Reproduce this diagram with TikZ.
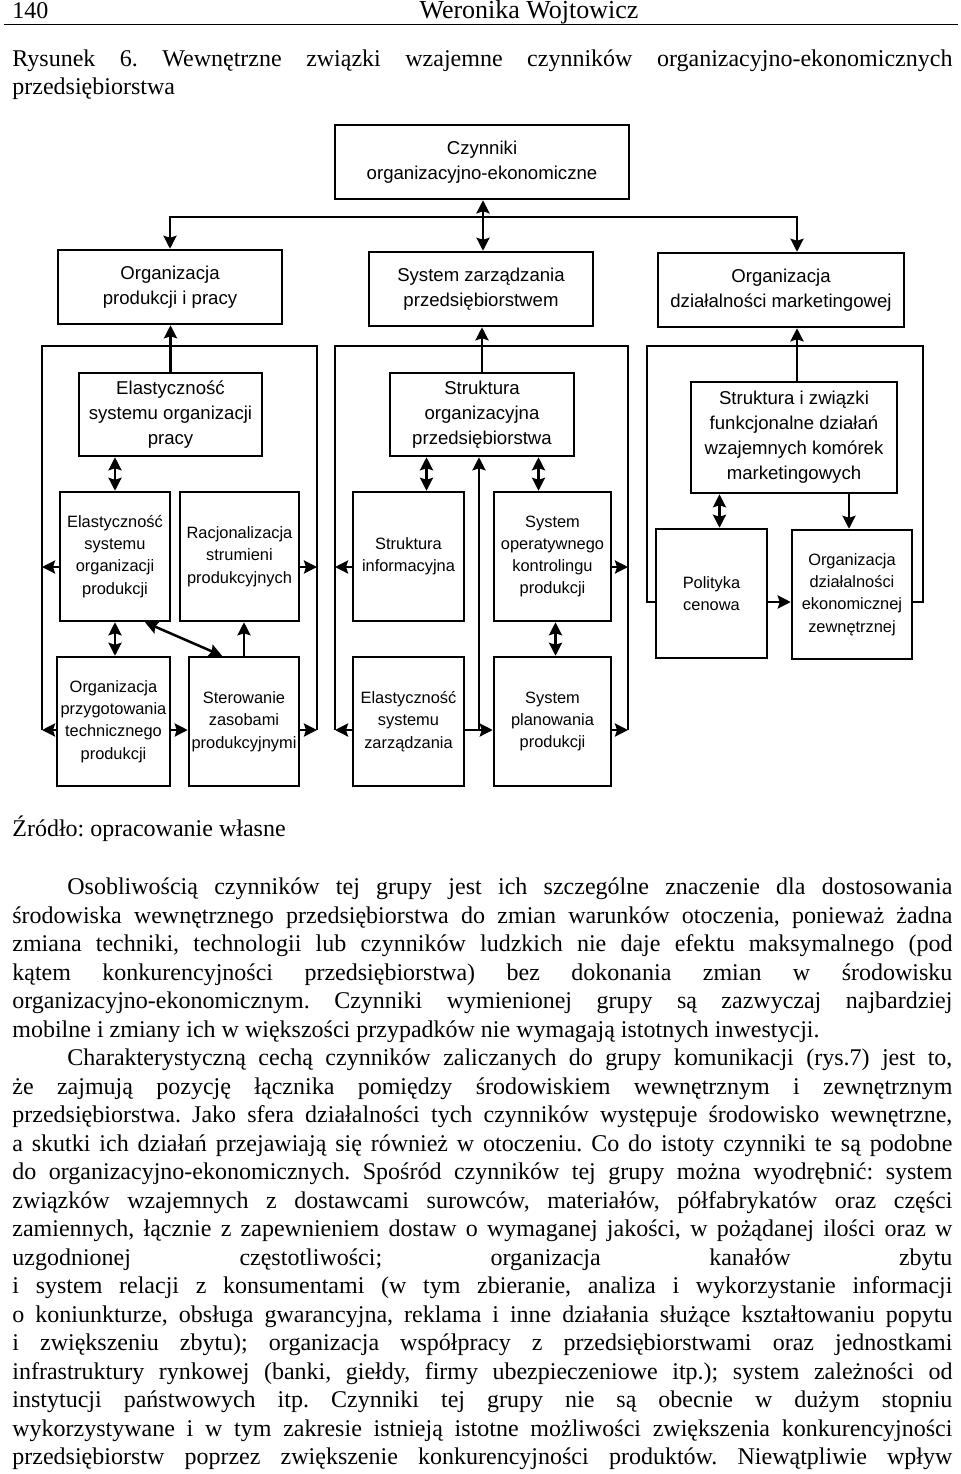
\documentclass[tikz,border=0pt]{standalone}
\usepackage{fontspec}
\setmainfont{Liberation Serif}
\newfontfamily\dsans{Liberation Sans}
\usetikzlibrary{arrows.meta,calc}
\frenchspacing
\tikzset{
  bx/.style={draw, line width=1.25pt, align=center, inner sep=0pt},
  big/.style={bx, font=\dsans\fontsize{9.3}{12.5}\selectfont},
  sml/.style={bx, font=\dsans\fontsize{8.2}{11.15}\selectfont, minimum height=64.5pt},
  conn/.style={line width=1.25pt},
  arr/.style={conn, -{Stealth[length=6.5pt,width=6.5pt,inset=1pt]}},
  darr/.style={conn, {Stealth[length=6.5pt,width=6.5pt,inset=1pt]}-{Stealth[length=6.5pt,width=6.5pt,inset=1pt]}},
  txt/.style={anchor=base west, inner sep=0pt, font=\fontsize{12}{14.25}\selectfont},
}
\begin{document}
\begin{tikzpicture}[x=0.5pt,y=-0.5pt]
\useasboundingbox[fill=white] (0,0) rectangle (960,1474);

% header
\node[txt] (pg) at (12,18.5) {140};
\node[txt, anchor=base, font=\fontsize{13}{15}\selectfont] (au) at (529,18.5) {Weronika Wojtowicz};
\draw[line width=0.75pt] (4,24.5) -- (958,24.5);
\node[txt] (cap1) at (12,66) {\makebox[470pt][s]{Rysunek 6. Wewnętrzne związki wzajemne czynników organizacyjno-ekonomicznych}};
\node[txt] (cap2) at (12,94.5) {przedsiębiorstwa};

% top level boxes
\node[big, minimum width=147pt, minimum height=37pt] (top) at (482,162) {Czynniki\\organizacyjno-ekonomiczne};
\node[big, minimum width=112pt, minimum height=37pt] (A) at (170,287) {Organizacja\\produkcji i pracy};
\node[big, minimum width=112pt, minimum height=37pt] (B) at (481,289) {System zarządzania\\przedsiębiorstwem};
\node[big, minimum width=123pt, minimum height=37pt] (C) at (781,290) {Organizacja\\działalności marketingowej};

% group 1
\node[big, minimum width=91.5pt, minimum height=41.5pt] (a1) at (170.5,414.5) {Elastyczność\\systemu organizacji\\pracy};
\node[sml, minimum width=55pt] (a2) at (115,556.5) {Elastyczność\\systemu\\organizacji\\produkcji};
\node[sml, minimum width=59.5pt] (a3) at (239.5,556.5) {Racjonalizacja\\strumieni\\produkcyjnych};
\node[sml, minimum width=56.5pt] (a4) at (113.5,721.5) {Organizacja\\przygotowania\\technicznego\\produkcji};
\node[sml, minimum width=55pt] (a5) at (244,721.5) {Sterowanie\\zasobami\\produkcyjnymi};

% group 2
\node[big, minimum width=92pt, minimum height=41.5pt] (b1) at (482,414.5) {Struktura\\organizacyjna\\przedsiębiorstwa};
\node[sml, minimum width=55.5pt] (b2) at (408.5,556.5) {Struktura\\informacyjna};
\node[sml, minimum width=58.5pt] (b3) at (552.5,556.5) {System\\operatywnego\\kontrolingu\\produkcji};
\node[sml, minimum width=55.5pt] (b4) at (408.5,721.5) {Elastyczność\\systemu\\zarządzania};
\node[sml, minimum width=58.5pt] (b5) at (552.5,721.5) {System\\planowania\\produkcji};

% group 3
\node[big, minimum width=103pt, minimum height=55.5pt] (c1) at (794,437.5) {Struktura i związki\\funkcjonalne działań\\wzajemnych komórek\\marketingowych};
\node[sml, minimum width=55.5pt] (c2) at (711.5,593.5) {Polityka\\cenowa};
\node[sml, minimum width=60pt] (c3) at (852,594.5) {Organizacja\\działalności\\ekonomicznej\\zewnętrznej};

% helper coordinates
\coordinate (r1) at (0,567);
\coordinate (r2) at (0,730);
\coordinate (r3) at (0,602);
\coordinate (g1L) at (42,346); \coordinate (g1R) at (317,346);
\coordinate (g2L) at (335,346); \coordinate (g2R) at (628,346);
\coordinate (g3L) at (647,346); \coordinate (g3R) at (923,346);
\coordinate (j0) at (483,217);
\coordinate (xC) at (797,0);
\coordinate (vb) at (479,730);

% top connectors
\draw[darr] (top.south -| j0) -- (B.north -| j0);
\draw[arr] (j0) -| (A.north);
\draw[arr] (j0) -| (C.north -| xC);

% group frames
\draw[conn] (g1L |- r2) -- (g1L) -- (g1R) -- (g1R |- r2);
\draw[conn] (g2L |- r2) -- (g2L) -- (g2R) -- (g2R |- r2);
\draw[conn] (c2.west |- r3) -- (g3L |- r3) -- (g3L) -- (g3R) -- (g3R |- r3) -- (c3.east |- r3);

% group to level-1 boxes
\draw[arr] (a1.north) -- (a1.north |- A.south);
\draw[arr] (b1.north) -- (b1.north |- B.south);
\draw[arr] (c1.north -| xC) -- (C.south -| xC);

% group 1 inner
\draw[darr] (a2.north) -- (a2.north |- a1.south);
\draw[darr] (a2.south) -- (a2.south |- a4.north);
\draw[darr] ([xshift=15pt]a2.south) -- ([xshift=-11pt]a5.north);
\draw[arr] (a5.north) -- (a5.north |- a3.south);
\draw[arr] (a4.east |- r2) -- (a5.west |- r2);
\draw[arr] (a2.west |- r1) -- (g1L |- r1);
\draw[arr] (a4.west |- r2) -- (g1L |- r2);
\draw[arr] (a3.east |- r1) -- (g1R |- r1);
\draw[arr] (a5.east |- r2) -- (g1R |- r2);

% group 2 inner
\draw[darr] ([xshift=9pt]b2.north) -- ([xshift=9pt]b2.north |- b1.south);
\draw[darr] ([xshift=-7pt]b3.north) -- ([xshift=-7pt]b3.north |- b1.south);
\draw[arr] (b4.east |- r2) -- (b5.west |- r2);
\draw[arr] (vb) -- (vb |- b1.south);
\draw[darr] ([xshift=1.5pt]b3.south) -- ([xshift=1.5pt]b3.south |- b5.north);
\draw[arr] (b2.west |- r1) -- (g2L |- r1);
\draw[arr] (b4.west |- r2) -- (g2L |- r2);
\draw[arr] (b3.east |- r1) -- (g2R |- r1);
\draw[arr] (b5.east |- r2) -- (g2R |- r2);

% group 3 inner
\draw[darr] ([xshift=4pt]c2.north) -- ([xshift=4pt]c2.north |- c1.south);
\draw[arr] ([xshift=-1.5pt]c3.north |- c1.south) -- ([xshift=-1.5pt]c3.north);
\draw[arr] (c2.east |- r3) -- (c3.west |- r3);

% source
\node[txt] (src) at (12,836) {Źródło: opracowanie własne};

% body text
\node[txt] (t1) at (67,894.5) {\makebox[442.5pt][s]{Osobliwością czynników tej grupy jest ich szczególne znaczenie dla dostosowania}};
\node[txt] (t2) at (12,923) {\makebox[470pt][s]{środowiska wewnętrznego przedsiębiorstwa do zmian warunków otoczenia, ponieważ żadna}};
\node[txt] (t3) at (12,951.5) {\makebox[470pt][s]{zmiana techniki, technologii lub czynników ludzkich nie daje efektu maksymalnego (pod}};
\node[txt] (t4) at (12,980) {\makebox[470pt][s]{kątem konkurencyjności przedsiębiorstwa) bez dokonania zmian w środowisku}};
\node[txt] (t5) at (12,1008.5) {\makebox[470pt][s]{organizacyjno-ekonomicznym. Czynniki wymienionej grupy są zazwyczaj najbardziej}};
\node[txt] (t6) at (12,1037) {mobilne i zmiany ich w większości przypadków nie wymagają istotnych inwestycji.};
\node[txt] (t7) at (67,1065.5) {\makebox[442.5pt][s]{Charakterystyczną cechą czynników zaliczanych do grupy komunikacji (rys.7) jest to,}};
\node[txt] (t8) at (12,1094) {\makebox[470pt][s]{że zajmują pozycję łącznika pomiędzy środowiskiem wewnętrznym i zewnętrznym}};
\node[txt] (t9) at (12,1122.5) {\makebox[470pt][s]{przedsiębiorstwa. Jako sfera działalności tych czynników występuje środowisko wewnętrzne,}};
\node[txt] (t10) at (12,1151) {\makebox[470pt][s]{a skutki ich działań przejawiają się również w otoczeniu. Co do istoty czynniki te są podobne}};
\node[txt] (t11) at (12,1179.5) {\makebox[470pt][s]{do organizacyjno-ekonomicznych. Spośród czynników tej grupy można wyodrębnić: system}};
\node[txt] (t12) at (12,1208) {\makebox[470pt][s]{związków wzajemnych z dostawcami surowców, materiałów, półfabrykatów oraz części}};
\node[txt] (t13) at (12,1236.5) {\makebox[470pt][s]{zamiennych, łącznie z zapewnieniem dostaw o wymaganej jakości, w pożądanej ilości oraz w}};
\node[txt] (t14) at (12,1265) {\makebox[470pt][s]{uzgodnionej częstotliwości; organizacja kanałów zbytu}};
\node[txt] (t15) at (12,1293.5) {\makebox[470pt][s]{i system relacji z konsumentami (w tym zbieranie, analiza i wykorzystanie informacji}};
\node[txt] (t16) at (12,1322) {\makebox[470pt][s]{o koniunkturze, obsługa gwarancyjna, reklama i inne działania służące kształtowaniu popytu}};
\node[txt] (t17) at (12,1350.5) {\makebox[470pt][s]{i zwiększeniu zbytu); organizacja współpracy z przedsiębiorstwami oraz jednostkami}};
\node[txt] (t18) at (12,1379) {\makebox[470pt][s]{infrastruktury rynkowej (banki, giełdy, firmy ubezpieczeniowe itp.); system zależności od}};
\node[txt] (t19) at (12,1407.5) {\makebox[470pt][s]{instytucji państwowych itp. Czynniki tej grupy nie są obecnie w dużym stopniu}};
\node[txt] (t20) at (12,1436) {\makebox[470pt][s]{wykorzystywane i w tym zakresie istnieją istotne możliwości zwiększenia konkurencyjności}};
\node[txt] (t21) at (12,1464.5) {\makebox[470pt][s]{przedsiębiorstw poprzez zwiększenie konkurencyjności produktów. Niewątpliwie wpływ}};
\end{tikzpicture}
\end{document}
